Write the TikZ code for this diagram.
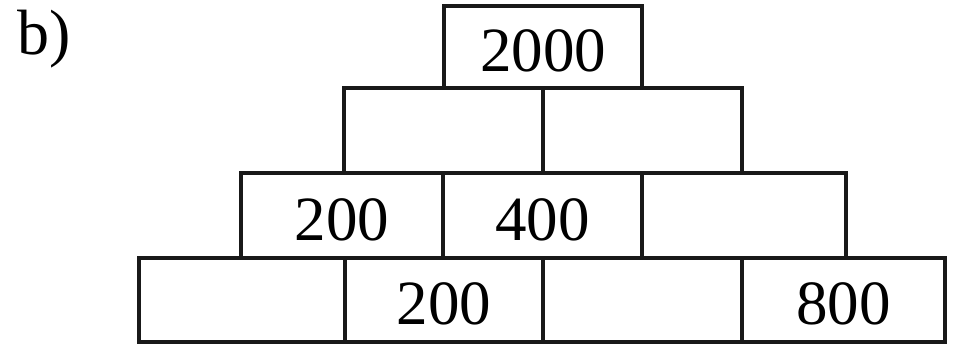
\documentclass[tikz,border=0pt]{standalone}
\usepackage{fontspec}
\setmainfont{Liberation Serif}
\begin{document}
\begin{tikzpicture}[x=1pt,y=-1pt,
  cell/.style={draw=black!90, line width=4pt, rectangle, inner sep=0pt,
    minimum height=84.5pt, text height=49pt, text depth=0pt,
    font=\fontsize{63}{63}\selectfont},
  lbl/.style={inner sep=0pt, font=\fontsize{64}{64}\selectfont, anchor=base west}]
\useasboundingbox (0,0) rectangle (953,345);
% row 1
\node[cell, minimum width=198pt, minimum height=82pt] (r1) at (543,47) {2000};
% row 2
\node[cell, minimum width=199pt] (r2a) at (443.5,130.5) {};
\node[cell, minimum width=199pt] (r2b) at (642.5,130.5) {};
% row 3
\node[cell, minimum width=202pt] (r3a) at (342,215.5) {200};
\node[cell, minimum width=199pt] (r3b) at (542.5,215.5) {400};
\node[cell, minimum width=204pt] (r3c) at (744,215.5) {};
% row 4
\node[cell, minimum width=206pt] (r4a) at (242,300) {};
\node[cell, minimum width=198pt] (r4b) at (444,300) {200};
\node[cell, minimum width=199pt] (r4c) at (642.5,300) {};
\node[cell, minimum width=203pt] (r4d) at (843.5,300) {800};
% label
\node[lbl] (b) at (17,55) {b)};
\end{tikzpicture}
\end{document}
